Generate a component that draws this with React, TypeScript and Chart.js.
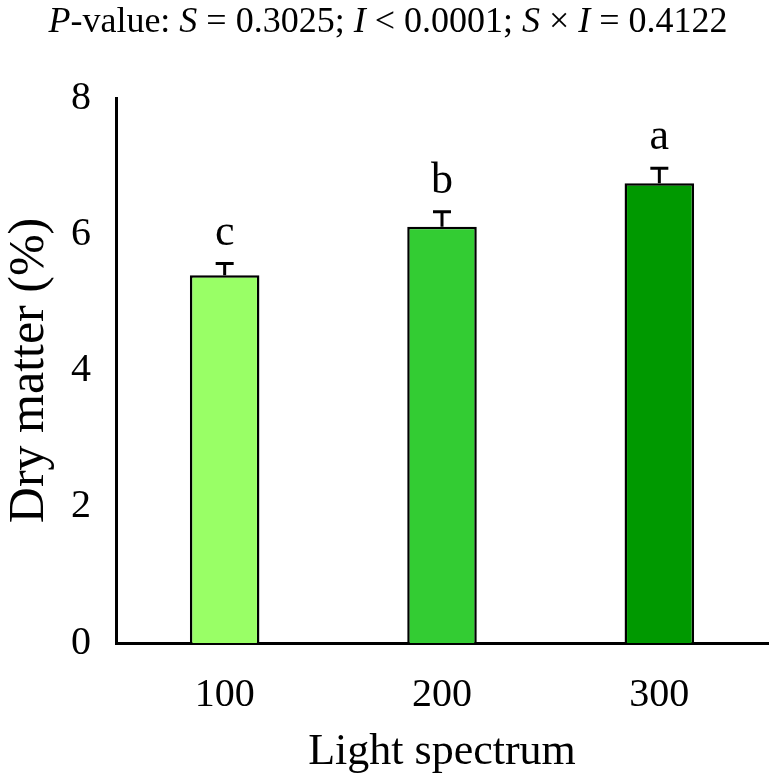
import React, { useEffect, useRef } from "react";
import { Chart, registerables } from "chart.js";

Chart.register(...registerables);

const categories = ["100", "200", "300"];
const dryMatter = [5.4, 6.11, 6.75];
const errors = [0.17, 0.22, 0.22];
const letters = ["c", "b", "a"];
const barColors = ["#99FF66", "#33CC33", "#009900"];
const yMin = 0;
const yMax = 8;
const yStep = 2;
const xTitle = "Light spectrum";
const yTitle = "Dry matter (%)";
const titleSegments = [
  { text: "P", italic: true },
  { text: "-value: ", italic: false },
  { text: "S", italic: true },
  { text: " = 0.3025; ", italic: false },
  { text: "I", italic: true },
  { text: " < 0.0001; ", italic: false },
  { text: "S", italic: true },
  { text: " \u00D7 ", italic: false },
  { text: "I", italic: true },
  { text: " = 0.4122", italic: false },
];

const FAMILY = '"Liberation Serif", "Times New Roman", serif';

const titlePlugin = {
  id: "mixedTitle",
  afterDraw(chart: any) {
    const ctx = chart.ctx;
    ctx.save();
    const size = 36;
    const fontFor = (it: boolean) => `${it ? "italic " : ""}${size}px ${FAMILY}`;
    let total = 0;
    const widths = titleSegments.map((s) => {
      ctx.font = fontFor(s.italic);
      const w = ctx.measureText(s.text).width;
      total += w;
      return w;
    });
    let x = 388 - total / 2;
    ctx.fillStyle = "#000";
    ctx.textBaseline = "alphabetic";
    ctx.textAlign = "left";
    titleSegments.forEach((s, i) => {
      ctx.font = fontFor(s.italic);
      ctx.fillText(s.text, x, 32);
      x += widths[i];
    });
    ctx.restore();
  },
};

const errorBarPlugin = {
  id: "errorBars",
  afterDatasetsDraw(chart: any) {
    const ctx = chart.ctx;
    const meta = chart.getDatasetMeta(0);
    const yScale = chart.scales.y;
    ctx.save();
    ctx.strokeStyle = "#000";
    ctx.lineWidth = 3;
    ctx.fillStyle = "#000";
    ctx.font = `44px ${FAMILY}`;
    ctx.textAlign = "center";
    ctx.textBaseline = "alphabetic";
    meta.data.forEach((bar: any, i: number) => {
      const x = bar.x;
      const yBar = yScale.getPixelForValue(dryMatter[i]);
      const yTop = yScale.getPixelForValue(dryMatter[i] + errors[i]);
      ctx.beginPath();
      ctx.moveTo(x, yBar);
      ctx.lineTo(x, yTop);
      ctx.moveTo(x - 9, yTop);
      ctx.lineTo(x + 9, yTop);
      ctx.stroke();
      ctx.fillText(letters[i], x, yTop - 19);
    });
    ctx.restore();
  },
};

export default function App() {
  const canvasRef = useRef<HTMLCanvasElement | null>(null);

  useEffect(() => {
    if (!canvasRef.current) return;
    const chart = new Chart(canvasRef.current, {
      type: "bar",
      data: {
        labels: categories,
        datasets: [
          {
            data: dryMatter,
            backgroundColor: barColors,
            borderColor: "#000",
            borderWidth: 2.5,
            barPercentage: 0.32,
            categoryPercentage: 1,
          },
        ],
      },
      options: {
        animation: false,
        responsive: false,
        maintainAspectRatio: false,
        devicePixelRatio: 1,
        layout: { padding: { top: 98, right: 3, left: 0, bottom: 0 } },
        plugins: {
          legend: { display: false },
          tooltip: { enabled: false },
          title: { display: false },
        },
        scales: {
          x: {
            type: "category",
            grid: { display: false, drawTicks: false },
            border: { display: true, color: "#000", width: 3 },
            ticks: {
              color: "#000",
              font: { family: FAMILY, size: 40 },
              padding: 28,
            },
            title: {
              display: true,
              text: xTitle,
              color: "#000",
              font: { family: FAMILY, size: 44 },
              padding: 0,
            },
            afterFit: (s: any) => {
              s.height = 136;
            },
          },
          y: {
            min: yMin,
            max: yMax,
            grid: { display: false, drawTicks: false },
            border: { display: true, color: "#000", width: 3 },
            ticks: {
              stepSize: yStep,
              color: "#000",
              font: { family: FAMILY, size: 40 },
              padding: 25,
            },
            title: {
              display: true,
              text: yTitle,
              color: "#000",
              font: { family: FAMILY, size: 50 },
              padding: 0,
            },
            afterFit: (s: any) => {
              s.width = 116;
            },
          },
        },
      },
      plugins: [titlePlugin, errorBarPlugin],
    } as any);
    return () => chart.destroy();
  }, []);

  return (
    <div style={{ position: "absolute", left: 0, top: 0, width: 771, height: 779, background: "#fff" }}>
      <canvas ref={canvasRef} width={771} height={779} style={{ display: "block" }} />
    </div>
  );
}
